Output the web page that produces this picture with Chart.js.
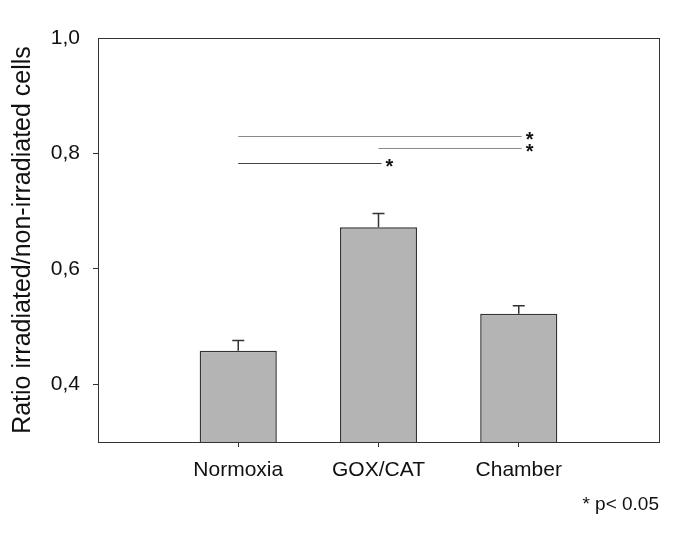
<!DOCTYPE html>
<html>
<head>
<meta charset="utf-8">
<script src="https://cdn.jsdelivr.net/npm/chart.js@4"></script>
<style>
  html, body { margin: 0; padding: 0; background: #ffffff; }
  #wrap { width: 685px; height: 538px; }
</style>
</head>
<body>
<div id="wrap"><canvas id="c" width="685" height="538"></canvas></div>
<script>
// ---- data ----
const categories = ['Normoxia', 'GOX/CAT', 'Chamber'];
const means = [0.458, 0.672, 0.522];
const errUpper = [0.018, 0.024, 0.014];
const yTickValues = [0.4, 0.6, 0.8, 1.0];
// significance brackets: [fromCategory, toCategory, yValue]
const sigFrom = [0, 1, 0];
const sigTo = [2, 2, 1];
const sigLevel = [0.831, 0.809, 0.784];
const footnote = '* p< 0.05';
const yTitle = 'Ratio irradiated/non-irradiated cells';

const FONT = '"Liberation Sans", Arial, sans-serif';
const labels = [''].concat(categories, ['']);
const values = [null].concat(means, [null]);

const extras = {
  id: 'extras',
  afterDatasetsDraw(chart) {
    const ctx = chart.ctx;
    const xs = chart.scales.x, ys = chart.scales.y;
    ctx.save();
    // error bars
    ctx.strokeStyle = '#333333';
    ctx.lineWidth = 1.5;
    means.forEach((m, i) => {
      const x = xs.getPixelForValue(i + 1);
      const y0 = ys.getPixelForValue(m);
      const y1 = ys.getPixelForValue(m + errUpper[i]);
      ctx.beginPath();
      ctx.moveTo(x, y0);
      ctx.lineTo(x, y1);
      ctx.moveTo(x - 6, y1);
      ctx.lineTo(x + 6, y1);
      ctx.stroke();
    });
    // significance lines
    sigLevel.forEach((lv, k) => {
      const xa = xs.getPixelForValue(sigFrom[k] + 1);
      const xb = xs.getPixelForValue(sigTo[k] + 1) + 3;
      const y = Math.round(ys.getPixelForValue(lv)) + 0.5;
      ctx.strokeStyle = k === 2 ? '#444444' : '#8a8a8a';
      ctx.lineWidth = 1;
      ctx.beginPath();
      ctx.moveTo(xa, y);
      ctx.lineTo(xb, y);
      ctx.stroke();
      ctx.fillStyle = '#111111';
      ctx.font = 'bold 20px ' + FONT;
      ctx.textAlign = 'center';
      ctx.textBaseline = 'middle';
      ctx.fillText('*', xb + 8, y + 4);
    });
    ctx.restore();
  },
  afterDraw(chart) {
    const ctx = chart.ctx;
    const a = chart.chartArea;
    ctx.save();
    ctx.strokeStyle = '#333333';
    ctx.lineWidth = 1;
    ctx.strokeRect(Math.round(a.left) + 0.5, Math.round(a.top) + 0.5,
                   Math.round(a.right - a.left), Math.round(a.bottom - a.top));
    ctx.fillStyle = '#111111';
    ctx.font = '19px ' + FONT;
    ctx.textAlign = 'right';
    ctx.textBaseline = 'middle';
    ctx.fillText(footnote, a.right, 505);
    ctx.restore();
  }
};

new Chart(document.getElementById('c'), {
  type: 'bar',
  data: {
    labels: labels,
    datasets: [{
      data: values,
      base: 0.3,
      backgroundColor: '#b4b4b4',
      borderColor: '#333333',
      borderWidth: 1.5,
      borderSkipped: 'bottom',
      barPercentage: 0.55,
      categoryPercentage: 1.0
    }]
  },
  options: {
    responsive: false,
    animation: false,
    devicePixelRatio: 1,
    layout: { padding: { left: 0, right: 26, top: 38, bottom: 0 } },
    plugins: { legend: { display: false }, tooltip: { enabled: false } },
    scales: {
      x: {
        type: 'category',
        offset: false,
        grid: {
          offset: false,
          drawOnChartArea: false,
          drawTicks: true,
          tickLength: 5,
          lineWidth: 1,
          color: (c) => (c.index === 0 || c.index === labels.length - 1) ? 'rgba(0,0,0,0)' : '#333333'
        },
        border: { display: false },
        ticks: {
          color: '#111111',
          font: { family: FONT, size: 21 },
          padding: 11,
          maxRotation: 0,
          autoSkip: false
        },
        afterFit: (s) => { s.height = 96; }
      },
      y: {
        type: 'linear',
        min: 0.3,
        max: 1.0,
        afterBuildTicks: (s) => { s.ticks = yTickValues.map(v => ({ value: v })); },
        grid: {
          drawOnChartArea: false,
          drawTicks: true,
          tickLength: 5,
          lineWidth: 1,
          color: (c) => (c.tick && c.tick.value === 1.0) ? 'rgba(0,0,0,0)' : '#333333'
        },
        border: { display: false },
        ticks: {
          color: '#111111',
          font: { family: FONT, size: 21 },
          padding: 13,
          callback: (v) => Number(v).toFixed(1).replace('.', ',')
        },
        title: {
          display: true,
          text: yTitle,
          color: '#111111',
          font: { family: FONT, size: 25 },
          padding: { top: 8, bottom: 0 }
        },
        afterFit: (s) => { s.width = 98; }
      }
    }
  },
  plugins: [extras]
});
</script>
</body>
</html>
